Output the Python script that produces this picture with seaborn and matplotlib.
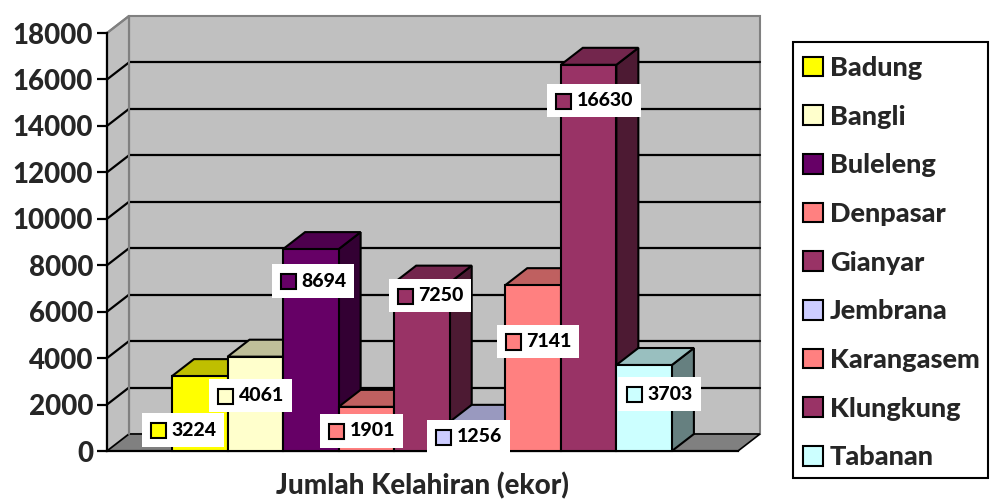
import matplotlib
matplotlib.use("Agg")
import matplotlib.pyplot as plt
import seaborn as sns
import numpy as np
import pandas as pd
from matplotlib.patches import Polygon, Rectangle, Patch
from matplotlib.offsetbox import AnnotationBbox, HPacker, TextArea, DrawingArea
from matplotlib.colors import to_rgb

# ---------------- data ----------------
regions = ["Badung", "Bangli", "Buleleng", "Denpasar", "Gianyar",
           "Jembrana", "Karangasem", "Klungkung", "Tabanan"]
births = [3224, 4061, 8694, 1901, 7250, 1256, 7141, 16630, 3703]
colors = ["#FFFF00", "#FFFFCC", "#660066", "#FF8080", "#993366",
          "#CCCCFF", "#FF8080", "#993366", "#CCFFFF"]
y_ticks = [0, 2000, 4000, 6000, 8000, 10000, 12000, 14000, 16000, 18000]
x_title = "Jumlah Kelahiran (ekor)"

# ---------------- layout (pixels) ----------------
label_offsets_px = [(-17, -54), (-5, -39), (2, -32), (-5, -24), (8, -13),
                    (-9, -15), (5, -56), (5, -36), (15, -29)]

sns.set_theme(style="white")
plt.rcParams["font.family"] = ["Lato", "DejaVu Sans"]
WT = 900

W, H = 993, 500
fig = plt.figure(figsize=(W / 100, H / 100), dpi=100)
ax_l, ax_r, ax_t, ax_b = 107, 738, 33, 451
ax = fig.add_axes([ax_l / W, (H - ax_b) / H, (ax_r - ax_l) / W, (ax_b - ax_t) / H])
ax.patch.set_visible(False)

df = pd.DataFrame({"region": regions, "births": births})
sns.barplot(data=df, x="region", y="births", hue="region", palette=colors,
            width=1.0, dodge=False, legend=False, ax=ax,
            edgecolor="black", linewidth=1.5, saturation=1)

ymax = y_ticks[-1]
xmin, xmax = -1.67, 9.69
ax.set_xlim(xmin, xmax)
ax.set_ylim(0, ymax)

px_per_x = (ax_r - ax_l) / (xmax - xmin)
px_per_y = (ax_b - ax_t) / ymax
dx = 22 / px_per_x
dy = 17 / px_per_y

wall = "#C0C0C0"
edge_gray = "#808080"
ax.add_patch(Polygon([(xmin + dx, dy), (xmax + dx, dy), (xmax + dx, ymax + dy), (xmin + dx, ymax + dy)],
                     closed=True, facecolor=wall, edgecolor=edge_gray, lw=1.5, clip_on=False, zorder=0.5))
ax.add_patch(Polygon([(xmin, 0), (xmin + dx, dy), (xmin + dx, ymax + dy), (xmin, ymax)],
                     closed=True, facecolor=wall, edgecolor=edge_gray, lw=1.5, clip_on=False, zorder=0.6))
ax.add_patch(Polygon([(xmin, 0), (xmax, 0), (xmax + dx, dy), (xmin + dx, dy)],
                     closed=True, facecolor="#808080", edgecolor="black", lw=1.2, clip_on=False, zorder=0.7))
for v in y_ticks[1:-1]:
    ax.plot([xmin + dx, xmax + dx], [v + dy, v + dy], color="black", lw=1.6, clip_on=False, zorder=0.8)
for v in y_ticks[1:]:
    c = "black" if v < ymax else edge_gray
    ax.plot([xmin, xmin + dx], [v, v + dy], color=c, lw=1.6, clip_on=False, zorder=0.8)
ax.plot([xmin + dx, xmin + dx], [dy, ymax + dy], color=edge_gray, lw=1.5, clip_on=False, zorder=0.85)


def shade(c, f):
    r, g, b = to_rgb(c)
    return (r * f, g * f, b * f)


bars = [p for p in ax.patches if isinstance(p, Rectangle) and p.get_height() > 0 and p.get_width() < 2]
bars = sorted(bars, key=lambda p: p.get_x())
for i, p in enumerate(bars):
    x0, w, h = p.get_x(), p.get_width(), p.get_height()
    fc = colors[i]
    z = 2 + i * 0.1
    side = Polygon([(x0 + w, 0), (x0 + w + dx, dy), (x0 + w + dx, h + dy), (x0 + w, h)], closed=True,
                   facecolor=shade(fc, 0.5), edgecolor="black", lw=1.5, clip_on=False, zorder=z)
    top = Polygon([(x0, h), (x0 + dx, h + dy), (x0 + w + dx, h + dy), (x0 + w, h)], closed=True,
                  facecolor=shade(fc, 0.75), edgecolor="black", lw=1.5, clip_on=False, zorder=z)
    ax.add_patch(side)
    ax.add_patch(top)
    p.set_zorder(z + 0.05)
    p.set_clip_on(False)

for i, p in enumerate(bars):
    cx = p.get_x() + p.get_width() / 2
    h = p.get_height()
    da = DrawingArea(13, 13, 0, 0)
    da.add_artist(Rectangle((1, 0.5), 11, 11, facecolor=colors[i], edgecolor="black", lw=1.5))
    ta = TextArea(str(births[i]), textprops=dict(fontsize=14, fontweight=WT, color="black"))
    pack = HPacker(children=[da, ta], align="center", pad=0, sep=3)
    ox, oy = label_offsets_px[i]
    ab = AnnotationBbox(pack, (cx, h), xybox=(ox * 0.72, oy * 0.72), xycoords="data",
                        boxcoords="offset points", frameon=True, pad=0.5,
                        bboxprops=dict(facecolor="white", edgecolor="none"), zorder=10,
                        annotation_clip=False)
    ax.add_artist(ab)

for s in ["top", "right"]:
    ax.spines[s].set_visible(False)
for s in ["left", "bottom"]:
    ax.spines[s].set_color("black")
    ax.spines[s].set_linewidth(1.6)
    ax.spines[s].set_zorder(1)
ax.set_yticks(y_ticks)
ax.set_yticklabels([str(v) for v in y_ticks], fontsize=20, fontweight=WT)
ax.tick_params(axis="y", direction="out", length=7, width=1.6, color="black", pad=3, left=True)
ax.set_xticks([])
ax.set_ylabel("")
ax.set_xlabel(x_title, fontsize=20, fontweight=WT, labelpad=15)

# legend frame
fig.patches.append(Rectangle((793 / W, 1 - 478 / H), (988 - 793) / W, (478 - 42) / H,
                             transform=fig.transFigure, facecolor="white", edgecolor="black",
                             lw=1.5, zorder=0))
handles = [Patch(facecolor=c, edgecolor="black", lw=1.5) for c in colors]
leg = fig.legend(handles, regions, loc="upper left", bbox_to_anchor=(803 / W, 1 - 56 / H),
                 frameon=False,
                 prop=dict(family=["Lato", "DejaVu Sans"], size=19.5, weight=WT),
                 handlelength=0.75, handleheight=0.75, handletextpad=0.25,
                 labelspacing=0.91, borderpad=0, borderaxespad=0)

fig.savefig("out.png", dpi=100)
